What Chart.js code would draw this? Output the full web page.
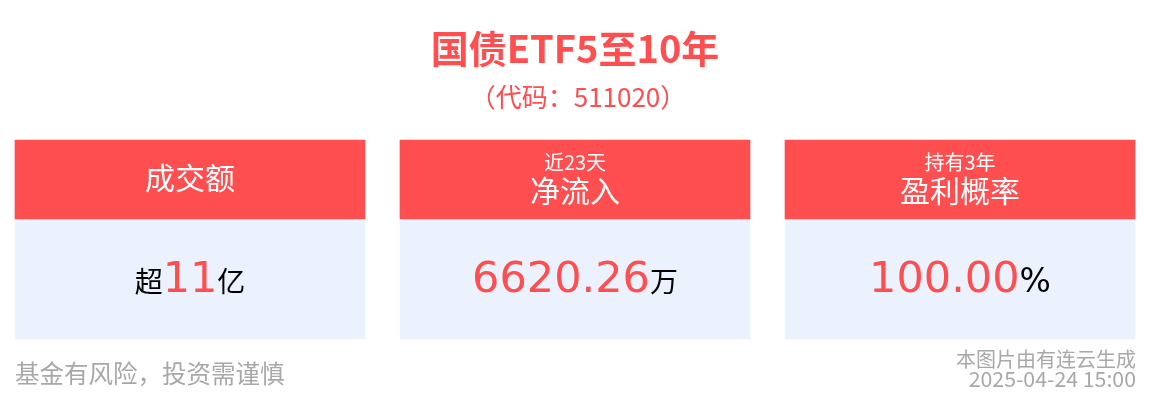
<!DOCTYPE html>
<html>
<head>
<meta charset="utf-8">
<script src="https://cdn.jsdelivr.net/npm/chart.js@4"></script>
<style>
  html, body { margin: 0; padding: 0; background: #fff; }
  canvas { display: block; }
</style>
</head>
<body>
<canvas id="myChart" width="1150" height="404"></canvas>
<script>
// データ
const titleText    = "国债ETF5至10年";
const codeText     = "（代码：511020）";
const categories   = ["成交额", "净流入", "盈利概率"];
const subLabels    = ["", "近23天", "持有3年"];
const valuePrefix  = ["超", "", ""];
const valueNumbers = ["11", "6620.26", "100.00"];
const valueUnits   = ["亿", "万", "%"];
const noteLeft     = "基金有风险，投资需谨慎";
const noteRight    = ["本图片由有连云生成", "2025-04-24 15:00"];

// 色の設定
const colorSet = {
  red  : "#ff4e50",
  body : "#ebf2fe",
  white: "#ffffff",
  black: "#000000",
  grey : "#a8a8a8",
};

const cjk  = '"Noto Sans CJK SC", "Noto Sans", sans-serif';
const num  = '"DejaVu Sans", sans-serif';

// カードの枠（上下の範囲）
const headTop = 140, headBottom = 219, bodyBottom = 339;

// 一行に複数フォントを並べて中央揃え
function drawRun(ctx, parts, cx, y) {
  let total = 0;
  parts.forEach(p => { ctx.font = p.font; p.w = ctx.measureText(p.text).width; total += p.w; });
  let x = cx - total / 2;
  parts.forEach(p => {
    ctx.font = p.font;
    ctx.fillStyle = p.color;
    ctx.textAlign = "left";
    ctx.fillText(p.text, x, y);
    x += p.w;
  });
}

const textPlugin = {
  id: "cardText",
  afterDatasetsDraw(chart) {
    const ctx = chart.ctx;
    const ys  = chart.scales.y;
    const bars = chart.getDatasetMeta(0).data;
    ctx.save();
    ctx.textBaseline = "alphabetic";

    // タイトル
    ctx.textAlign = "center";
    ctx.fillStyle = colorSet.red;
    ctx.font = "bold 38px " + cjk;
    ctx.fillText(titleText, 575, ys.getPixelForValue(63));
    ctx.font = "26px " + cjk;
    ctx.fillText(codeText, 578, ys.getPixelForValue(107));

    // カード
    bars.forEach((bar, i) => {
      ctx.fillStyle = colorSet.white;
      ctx.textAlign = "center";
      if (subLabels[i]) {
        ctx.font = "20px " + cjk;
        ctx.fillText(subLabels[i], bar.x, ys.getPixelForValue(170));
        ctx.font = "30px " + cjk;
        ctx.fillText(categories[i], bar.x, ys.getPixelForValue(202));
      } else {
        ctx.font = "30px " + cjk;
        ctx.fillText(categories[i], bar.x, ys.getPixelForValue(189));
      }
      const parts = [];
      if (valuePrefix[i]) parts.push({ text: valuePrefix[i], font: "28px " + cjk, color: colorSet.black });
      parts.push({ text: valueNumbers[i], font: "43px " + num, color: colorSet.red });
      parts.push({ text: valueUnits[i], font: (valueUnits[i] === "%" ? "33px " + num : "28px " + cjk), color: colorSet.black });
      drawRun(ctx, parts, bar.x, ys.getPixelForValue(292));
    });

    // 注意書き
    ctx.fillStyle = colorSet.grey;
    ctx.textAlign = "left";
    ctx.font = "24.5px " + cjk;
    ctx.fillText(noteLeft, 15, ys.getPixelForValue(383));
    ctx.textAlign = "right";
    ctx.font = "20px " + cjk;
    ctx.fillText(noteRight[0], 1136, ys.getPixelForValue(367));
    ctx.font = "21.3px " + cjk;
    ctx.fillText(noteRight[1], 1136, ys.getPixelForValue(387));
    ctx.restore();
  }
};

const data = {
  datasets: [{
    label: "head",
    data: categories.map((c, i) => ({ x: i, y: [headTop, headBottom] })),
    backgroundColor: colorSet.red,
  }, {
    label: "body",
    data: categories.map((c, i) => ({ x: i, y: [headBottom, bodyBottom] })),
    backgroundColor: colorSet.body,
  }]
};

const config = {
  type: "bar",
  data: data,
  options: {
    responsive: false,
    animation: false,
    events: [],
    layout: { padding: 0 },
    datasets: {
      bar: { barThickness: 350, grouped: false, borderWidth: 0, borderSkipped: false }
    },
    plugins: {
      legend: { display: false },
      tooltip: { enabled: false }
    },
    scales: {
      x: { type: "linear", min: -190 / 385, max: 2 + 190 / 385, offset: false, display: false },
      y: { min: 0, max: 404, reverse: true, display: false }
    }
  },
  plugins: [textPlugin]
};

const ctx = document.getElementById("myChart");
const myChart = new Chart(ctx, config);
</script>
</body>
</html>
